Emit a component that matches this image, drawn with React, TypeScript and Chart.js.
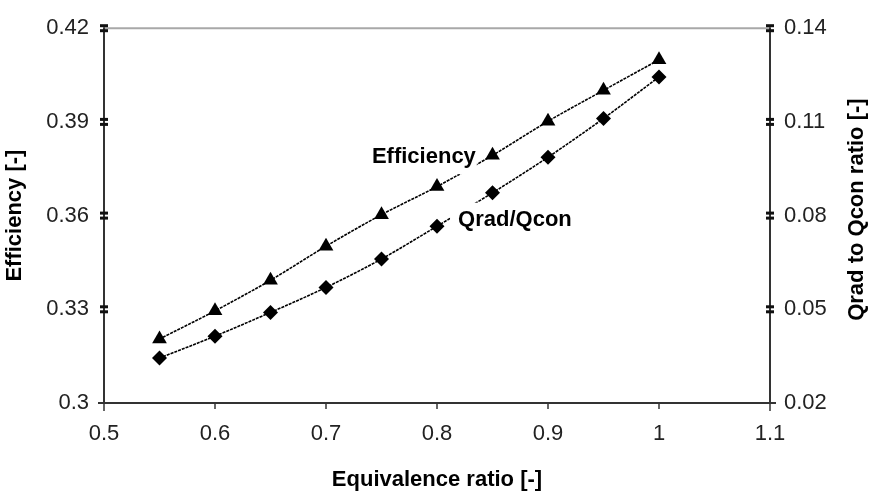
import { useEffect, useRef } from 'react';
import { Chart, registerables } from 'chart.js';

Chart.register(...registerables);

// ---------- data ----------
const equivalenceRatio = [0.55, 0.6, 0.65, 0.7, 0.75, 0.8, 0.85, 0.9, 0.95, 1.0];
const efficiency = [0.3205, 0.3295, 0.3393, 0.3502, 0.3603, 0.3693, 0.3793, 0.3902, 0.4001, 0.4099];
const qradQcon = [0.0344, 0.0414, 0.049, 0.057, 0.0661, 0.0766, 0.0873, 0.0987, 0.1111, 0.1244];

const xTicks = [0.5, 0.6, 0.7, 0.8, 0.9, 1.0, 1.1];
const xTickLabels = ['0.5', '0.6', '0.7', '0.8', '0.9', '1', '1.1'];
const effTicks = [0.3, 0.33, 0.36, 0.39, 0.42];
const effTickLabels = ['0.3', '0.33', '0.36', '0.39', '0.42'];
const ratioTicks = [0.02, 0.05, 0.08, 0.11, 0.14];
const ratioTickLabels = ['0.02', '0.05', '0.08', '0.11', '0.14'];

const seriesNames = ['Efficiency', 'Qrad/Qcon'];
const axisTitles = ['Equivalence ratio [-]', 'Efficiency [-]', 'Qrad to Qcon ratio [-]'];

const FONT = '"Liberation Sans", Arial, Helvetica, sans-serif';

const decorPlugin = {
  id: 'decor',
  afterDatasetsDraw(chart: any) {
    const ctx = chart.ctx;
    const x = chart.scales.x;
    const yl = chart.scales.y;
    ctx.save();
    ctx.font = 'bold 22px ' + FONT;
    ctx.textBaseline = 'middle';

    // "Efficiency" label (right-anchored)
    const ex = x.getPixelForValue(0.835);
    const ey = yl.getPixelForValue(0.3787);
    const ew = ctx.measureText(seriesNames[0]).width;
    ctx.fillStyle = '#fff';
    ctx.fillRect(ex - ew - 6, ey - 16, ew + 7, 33);
    ctx.fillStyle = '#000';
    ctx.textAlign = 'right';
    ctx.fillText(seriesNames[0], ex, ey);

    // "Qrad/Qcon" label (left-anchored)
    const qx = x.getPixelForValue(0.819);
    const qy = yl.getPixelForValue(0.3587);
    const qw = ctx.measureText(seriesNames[1]).width;
    ctx.fillStyle = '#fff';
    ctx.fillRect(qx - 8, qy - 17, qw + 14, 34);
    ctx.fillStyle = '#000';
    ctx.textAlign = 'left';
    ctx.fillText(seriesNames[1], qx, qy);
    ctx.restore();
  },
  afterDraw(chart: any) {
    const ctx = chart.ctx;
    const x = chart.scales.x;
    const yl = chart.scales.y;
    const yr = chart.scales.y1;
    const L = x.getPixelForValue(xTicks[0]);
    const R = x.getPixelForValue(xTicks[xTicks.length - 1]);
    const T = yl.getPixelForValue(effTicks[effTicks.length - 1]);
    const B = yl.getPixelForValue(effTicks[0]);
    const line = (x1: number, y1: number, x2: number, y2: number) => {
      ctx.beginPath();
      ctx.moveTo(x1, y1);
      ctx.lineTo(x2, y2);
      ctx.stroke();
    };
    ctx.save();
    // top border (gray)
    ctx.strokeStyle = '#a8a8a8';
    ctx.lineWidth = 2;
    line(L, T, R, T);
    // axes
    ctx.strokeStyle = '#333';
    ctx.lineWidth = 2;
    line(L, T - 1, L, B + 1);
    line(R, T - 1, R, B + 1);
    line(L - 6, B, R + 6, B);
    // x ticks
    ctx.lineWidth = 1.5;
    xTicks.forEach((v, i) => {
      const px = x.getPixelForValue(v);
      const end = i === 0 || i === xTicks.length - 1 ? 8 : 6;
      line(px, B, px, B + end);
    });
    // box ticks on y axes
    const box = (cx: number, cy: number) => {
      ctx.fillStyle = '#111';
      ctx.fillRect(cx - 4, cy - 4, 8, 3);
      ctx.fillRect(cx - 4, cy + 1, 8, 3);
    };
    effTicks.slice(1).forEach((v) => box(L, yl.getPixelForValue(v)));
    ratioTicks.slice(1).forEach((v) => box(R, yr.getPixelForValue(v)));

    // right axis title (reads bottom to top)
    ctx.font = 'bold 22px ' + FONT;
    ctx.fillStyle = '#000';
    ctx.textAlign = 'center';
    ctx.textBaseline = 'middle';
    ctx.translate(857, (T + B) / 2 - 6);
    ctx.rotate(-Math.PI / 2);
    ctx.fillText(axisTitles[2], 0, 0);
    ctx.restore();
  },
};

export default function App() {
  const canvasRef = useRef<HTMLCanvasElement | null>(null);

  useEffect(() => {
    const canvas = canvasRef.current;
    if (!canvas) return;
    const tickFont = { family: FONT, size: 22 };
    const titleFont = { family: FONT, size: 22, weight: 'bold' as const, lineHeight: 1 };
    const chart = new Chart(canvas, {
      type: 'line',
      data: {
        datasets: [
          {
            label: seriesNames[0],
            data: equivalenceRatio.map((v, i) => ({ x: v, y: efficiency[i] })),
            yAxisID: 'y',
            borderColor: '#000',
            backgroundColor: '#000',
            borderWidth: 1.6,
            borderDash: [3, 1],
            pointStyle: 'triangle',
            pointRadius: 8.5,
            pointBorderWidth: 0,
            pointBackgroundColor: '#000',
            tension: 0.3,
            fill: false,
          },
          {
            label: seriesNames[1],
            data: equivalenceRatio.map((v, i) => ({ x: v, y: qradQcon[i] })),
            yAxisID: 'y1',
            borderColor: '#000',
            backgroundColor: '#000',
            borderWidth: 1.6,
            borderDash: [3, 1],
            pointStyle: 'rectRot',
            pointRadius: 7.5,
            pointBorderWidth: 0,
            pointBackgroundColor: '#000',
            tension: 0.3,
            fill: false,
          },
        ],
      },
      options: {
        animation: false,
        responsive: false,
        devicePixelRatio: 1,
        layout: { padding: { top: 27, left: 0, right: 0, bottom: 0 } },
        plugins: { legend: { display: false }, tooltip: { enabled: false } },
        scales: {
          x: {
            type: 'linear',
            min: 0.5,
            max: 1.1,
            afterBuildTicks: (s: any) => {
              s.ticks = xTicks.map((value) => ({ value }));
            },
            afterFit: (s: any) => {
              s.height = 90;
            },
            grid: { display: false, drawTicks: false },
            border: { display: false },
            ticks: {
              padding: 18,
              color: '#222',
              font: tickFont,
              maxRotation: 0,
              autoSkip: false,
              callback: (_v: any, i: number) => xTickLabels[i],
            },
            title: {
              display: true,
              text: axisTitles[0],
              color: '#000',
              font: titleFont,
              padding: { top: 0, bottom: 2 },
            },
          },
          y: {
            type: 'linear',
            position: 'left',
            min: 0.3,
            max: 0.42,
            afterBuildTicks: (s: any) => {
              s.ticks = effTicks.map((value) => ({ value }));
            },
            afterFit: (s: any) => {
              s.width = 104;
            },
            grid: { display: false, drawTicks: false },
            border: { display: false },
            ticks: {
              padding: 15,
              color: '#222',
              font: tickFont,
              autoSkip: false,
              callback: (_v: any, i: number) => effTickLabels[i],
            },
            title: {
              display: true,
              text: axisTitles[1],
              color: '#000',
              font: titleFont,
              padding: { top: 4, bottom: 0 },
            },
          },
          y1: {
            type: 'linear',
            position: 'right',
            min: 0.02,
            max: 0.14,
            afterBuildTicks: (s: any) => {
              s.ticks = ratioTicks.map((value) => ({ value }));
            },
            afterFit: (s: any) => {
              s.width = 100;
            },
            grid: { display: false, drawTicks: false },
            border: { display: false },
            ticks: {
              padding: 14,
              color: '#222',
              font: tickFont,
              autoSkip: false,
              callback: (_v: any, i: number) => ratioTickLabels[i],
            },
            title: { display: false },
          },
        },
      },
      plugins: [decorPlugin],
    });
    return () => chart.destroy();
  }, []);

  return (
    <div style={{ position: 'fixed', left: 0, top: 0, width: 870, height: 493, background: '#fff' }}>
      <canvas ref={canvasRef} width={870} height={493} style={{ display: 'block' }} />
    </div>
  );
}
